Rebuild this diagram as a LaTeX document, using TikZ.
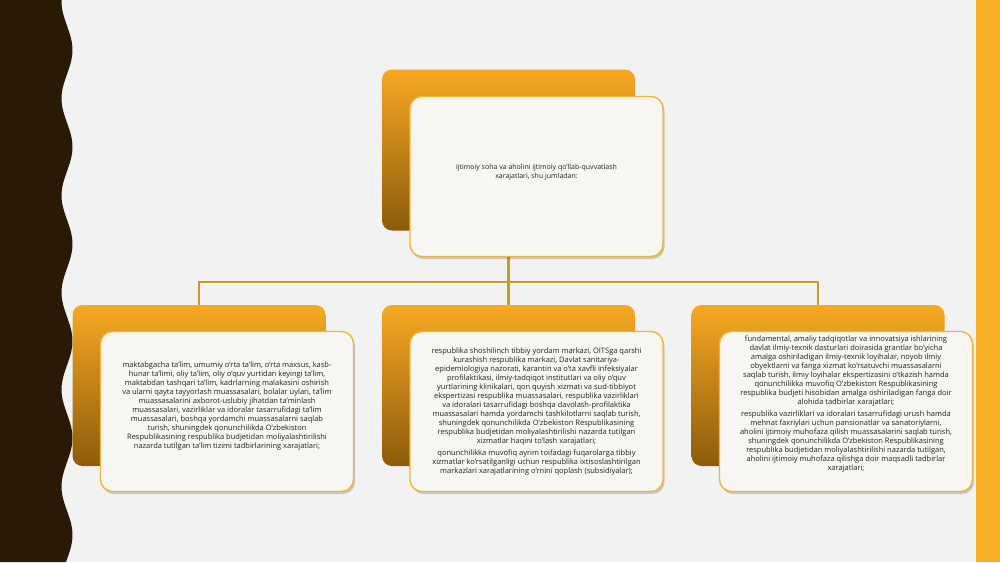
\documentclass[tikz,border=0pt]{standalone}
\usepackage{fontspec}
\setmainfont{Open Sans}
\usetikzlibrary{shadows}
\definecolor{bgc}{HTML}{F2F2F2}
\definecolor{darkband}{HTML}{2A1A05}
\definecolor{rbar}{HTML}{F8B127}
\definecolor{otop}{HTML}{F7A823}
\definecolor{obot}{HTML}{8C5B0B}
\definecolor{ffill}{HTML}{F7F6F3}
\definecolor{fborder}{HTML}{F0B43A}
\definecolor{connc}{HTML}{C69A2B}
\definecolor{txt}{HTML}{222222}
\tikzset{
  backbox/.style={rounded corners=10pt, top color=otop, bottom color=obot, draw=none,
    minimum width=253, minimum height=161, inner sep=0},
  frontbox/.style={rounded corners=12pt, fill=ffill, draw=fborder, line width=1.4pt,
    minimum width=253, minimum height=160, inner sep=0,
    drop shadow={shadow xshift=1.5pt, shadow yshift=-2.5pt, opacity=.18, fill=black}},
  boxtext/.style={align=center, inner sep=0, text=txt, font=\fontsize{7.5}{9}\selectfont},
  conn/.style={draw=connc, line width=2.8pt}
}
\begin{document}
\begin{tikzpicture}[x=1pt, y=-1pt]
\useasboundingbox (0,0) rectangle (1000,562);
\fill[bgc] (0,0) rectangle (1000,562);
\fill[darkband] (0,0) -- plot[domain=0:562, samples=150, variable=\t] ({67+5.5*cos((\t-50)*3.7113)}, \t) -- (0,562) -- cycle;
\fill[rbar] (976,0) rectangle (1000,562);

% back boxes
\node[backbox] (t0) at (508.5,150) {};
\node[backbox] (b1) at (199,385.5) {};
\node[backbox] (b2) at (508.5,385.5) {};
\node[backbox] (b3) at (818,385.5) {};

% connectors
\coordinate (j) at (508.5,282);
\draw[conn] (t0.south) -- (b2.north);
\draw[conn] (b1.north) -- (b1.north |- j) -- (b3.north |- j) -- (b3.north);

% front boxes
\node[frontbox] (t) at (536.5,176.5) {};
\node[frontbox] (f1) at (227,411.5) {};
\node[frontbox] (f2) at (536.5,411.5) {};
\node[frontbox] (f3) at (846,411.5) {};

\node[boxtext, font=\fontsize{7}{8.5}\selectfont] (tt) at (536.5,172) {ijtimoiy soha va aholini ijtimoiy qo’llab-quvvatlash\\xarajatlari, shu jumladan:};

\node[boxtext] (t1) at (227,406) {maktabgacha ta’lim, umumiy o’rta ta’lim, o’rta maxsus, kasb-\\
hunar ta’limi, oliy ta’lim, oliy o’quv yurtidan keyingi ta’lim,\\
maktabdan tashqari ta’lim, kadrlarning malakasini oshirish\\
va ularni qayta tayyorlash muassasalari, bolalar uylari, ta’lim\\
muassasalarini axborot-uslubiy jihatdan ta’minlash\\
muassasalari, vazirliklar va idoralar tasarrufidagi ta’lim\\
muassasalari, boshqa yordamchi muassasalarni saqlab\\
turish, shuningdek qonunchilikda O’zbekiston\\
Respublikasining respublika budjetidan moliyalashtirilishi\\
nazarda tutilgan ta’lim tizimi tadbirlarining xarajatlari;};

\node[boxtext] (t2) at (536.5,412) {respublika shoshilinch tibbiy yordam markazi, OITSga qarshi\\
kurashish respublika markazi, Davlat sanitariya-\\
epidemiologiya nazorati, karantin va o’ta xavfli infeksiyalar\\
profilaktikasi, ilmiy-tadqiqot institutlari va oliy o’quv\\
yurtlarining klinikalari, qon quyish xizmati va sud-tibbiyot\\
ekspertizasi respublika muassasalari, respublika vazirliklari\\
va idoralari tasarrufidagi boshqa davolash-profilaktika\\
muassasalari hamda yordamchi tashkilotlarni saqlab turish,\\
shuningdek qonunchilikda O’zbekiston Respublikasining\\
respublika budjetidan moliyalashtirilishi nazarda tutilgan\\
xizmatlar haqini to’lash xarajatlari;\\[3pt]
qonunchilikka muvofiq ayrim toifadagi fuqarolarga tibbiy\\
xizmatlar ko’rsatilganligi uchun respublika ixtisoslashtirilgan\\
markazlari xarajatlarining o’rnini qoplash (subsidiyalar);};

\node[boxtext] (t3) at (846,404.5) {fundamental, amaliy tadqiqotlar va innovatsiya ishlarining\\
davlat ilmiy-texnik dasturlari doirasida grantlar bo’yicha\\
amalga oshiriladigan ilmiy-texnik loyihalar, noyob ilmiy\\
obyektlarni va fanga xizmat ko’rsatuvchi muassasalarni\\
saqlab turish, ilmiy loyihalar ekspertizasini o’tkazish hamda\\
qonunchilikka muvofiq O’zbekiston Respublikasining\\
respublika budjeti hisobidan amalga oshiriladigan fanga doir\\
alohida tadbirlar xarajatlari;\\[3pt]
respublika vazirliklari va idoralari tasarrufidagi urush hamda\\
mehnat faxriylari uchun pansionatlar va sanatoriylarni,\\
aholini ijtimoiy muhofaza qilish muassasalarini saqlab turish,\\
shuningdek qonunchilikda O’zbekiston Respublikasining\\
respublika budjetidan moliyalashtirilishi nazarda tutilgan,\\
aholini ijtimoiy muhofaza qilishga doir maqsadli tadbirlar\\
xarajatlari;};
\end{tikzpicture}
\end{document}
